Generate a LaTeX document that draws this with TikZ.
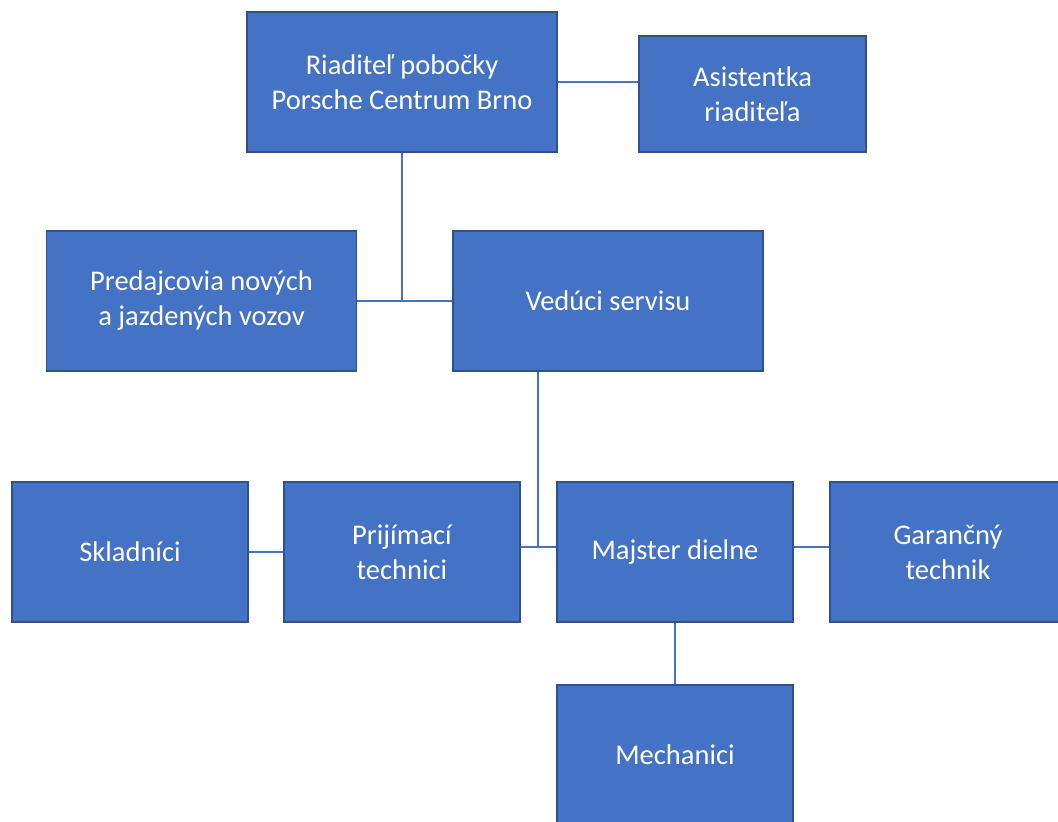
\documentclass[tikz,border=0pt]{standalone}
\usepackage{fontspec}
\setmainfont{Carlito}
\usetikzlibrary{positioning}
\definecolor{boxblue}{HTML}{4472C4}
\definecolor{boxedge}{HTML}{2F528F}

\begin{document}
\begin{tikzpicture}[
  x=1pt,
  y=-1pt,
  unit/.style={draw=boxedge,line width=1.2pt,fill=boxblue,text=white,
    align=center,font=\fontsize{28.5}{35}\selectfont,inner sep=0pt,
    minimum width=310pt,minimum height=140pt},
  team/.style={unit,minimum width=236pt},
  link/.style={draw=boxblue,line width=2pt}
]
\useasboundingbox (0,0) rectangle (1058,822);
\clip (0,0) rectangle (1058,822);

\node[unit] (director) at (402,82) {Riaditeľ pobočky\\Porsche Centrum Brno};
\node[unit,minimum width=227pt,minimum height=116pt] (assistant) at (752.5,94)
  {Asistentka\\riaditeľa};
\node[unit] (sales) at (201.5,301) {Predajcovia nových\\a jazdených vozov};
\node[unit] (service) at (608,301) {Vedúci servisu};

\node[team] (stores) at (130,552) {Skladníci};
\node[team] (reception) at (402,552) {Prijímací\\technici};
\node[team] (foreman) at (675,552) {Majster dielne};
\node[team] (warranty) at (948,552) {Garančný\\technik};
\node[team] (mechanics) at (675,755) {Mechanici};

\coordinate (hub1) at (director.south |- sales.east);
\coordinate (hub2) at (538,547);

\draw[link] (director.east) -- (assistant.west |- director.east);
\draw[link] (director) -- (hub1);
\draw[link] (sales) -- (service);
\draw[link] (hub2 |- service.south) -- (hub2);
\draw[link] (stores) -- (reception);
\draw[link] (reception.east |- hub2) -- (foreman.west |- hub2);
\draw[link] (foreman.east |- hub2) -- (warranty.west |- hub2);
\draw[link] (foreman) -- (mechanics);

\end{tikzpicture}
\end{document}
